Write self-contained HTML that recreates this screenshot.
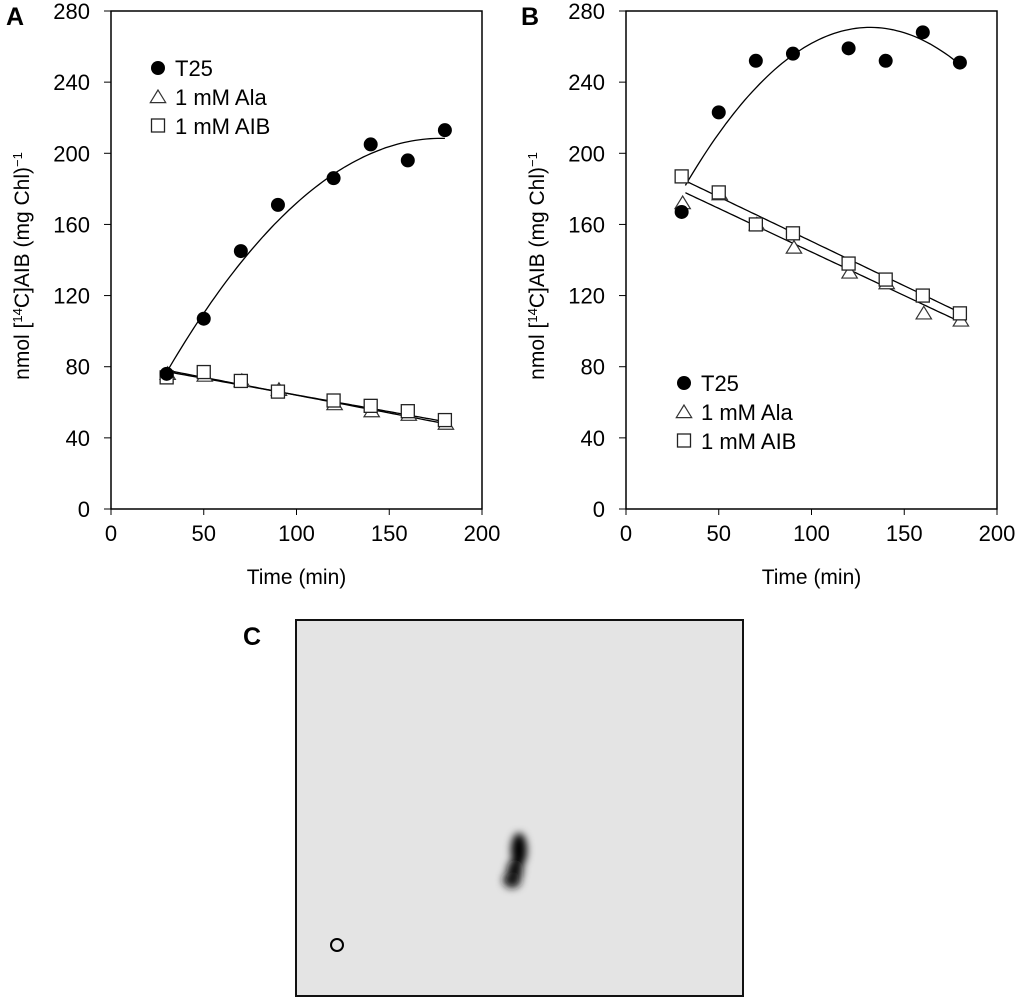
<!DOCTYPE html>
<html><head><meta charset="utf-8"><style>
body{margin:0;background:#fff;width:1024px;height:1002px;overflow:hidden}
svg text{font-family:"Liberation Sans",sans-serif}
</style></head><body>
<svg id="fig" width="1024" height="1002" viewBox="0 0 1024 1002">
<defs>
<filter id="blur" x="-50%" y="-50%" width="200%" height="200%"><feGaussianBlur stdDeviation="4"/></filter>
</defs>
<g id="panelA"></g>
<g id="panelB"></g>
<g>
<text x="243" y="645" font-size="25" font-weight="bold">C</text>
<rect x="296" y="620" width="447" height="376" fill="#e4e4e4" stroke="#111" stroke-width="2"/>
<g filter="url(#blur)">
<ellipse cx="519" cy="850" rx="8" ry="17" fill="#000"/>
<ellipse cx="515" cy="870" rx="8" ry="10" fill="#111"/>
<ellipse cx="512" cy="880" rx="9" ry="8" fill="#151515"/>
</g>
<circle cx="337" cy="945" r="6" fill="none" stroke="#000" stroke-width="2"/>
</g>
</svg>
<script>
const xTicks=[0,50,100,150,200];
const yTicks=[0,40,80,120,160,200,240,280];
const times=[30,50,70,90,120,140,160,180];
const aT25=[76,107,145,171,186,205,196,213];
const aAla=[76,75,72,67,59,55,53,48];
const aAIB=[74,77,72,66,61,58,55,50];
const bT25=[167,223,252,256,259,252,268,251];
const bAla=[172,177,160,147,133,127,110,106];
const bAIB=[187,178,160,155,138,129,120,110];
const aT25Fit=[18.2,2.140,-0.00602];
const aAlaFit=[84.0,-0.200];
const aAIBFit=[82.8,-0.187];
const bT25Fit=[115.7,2.356,-0.008948];
const bAlaFit=[193.5,-0.49];
const bAIBFit=[200.5,-0.50];
const NS="http://www.w3.org/2000/svg";
function mk(p,t,a){const e=document.createElementNS(NS,t);for(const k in a)e.setAttribute(k,a[k]);p.appendChild(e);return e;}
function panel(g,x0,x1,label,ptsT,ptsA,ptsS,fitT,fitA,fitS,legY,legX,fitStart){
 const y0=509,y1=11;
 const sx=v=>x0+(v-0)/200*(x1-x0);
 const sy=v=>y0-(v/280)*(y0-y1);
 let r=mk(g,'rect',{x:x0,y:y1,width:x1-x0,height:y0-y1,fill:'none',stroke:'#000','stroke-width':1.5});
 
 
 let t=mk(g,'text',{x:x0-105,y:25,'font-size':25,'font-weight':'bold'});t.textContent=label;
 
 
 xTicks.forEach(v=>{mk(g,'line',{x1:sx(v),x2:sx(v),y1:y0,y2:y0+6,stroke:'#000'});
  const tt=mk(g,'text',{x:sx(v),y:y0+32,'font-size':22,'text-anchor':'middle'});tt.textContent=v;
  
  });
 yTicks.forEach(v=>{mk(g,'line',{x1:x0-7,x2:x0,y1:sy(v),y2:sy(v),stroke:'#000'});
  const tt=mk(g,'text',{x:x0-21,y:sy(v)+8,'font-size':22,'text-anchor':'end'});tt.textContent=v;
  
  });
 const xt=mk(g,'text',{x:(x0+x1)/2,y:584,'font-size':21,'text-anchor':'middle'});xt.textContent='Time (min)';
 
 
 const yt=mk(g,'text',{x:0,y:0,'font-size':21,'text-anchor':'middle',transform:`translate(${x0-82},${266}) rotate(-90)`});
 yt.innerHTML='nmol [<tspan baseline-shift="super" font-size="13">14</tspan>C]AIB (mg Chl)<tspan baseline-shift="super" font-size="13">−1</tspan>';
 
 
 const poly=(f,a,b)=>{let d='';for(let x=a;x<=b+0.01;x+=2){const y=f.reduce((s,c,i)=>s+c*Math.pow(x,i),0);d+=(d?'L':'M')+sx(x).toFixed(1)+','+sy(y).toFixed(1);}return d;};
 [[fitT,'fit-t25'],[fitA,'fit-ala'],[fitS,'fit-aib']].forEach(([f,n])=>{const p=mk(g,'path',{d:poly(f,fitStart,181),fill:'none',stroke:'#000','stroke-width':1.3});
  
  });
 const tri=(cx,cy,s)=>`${cx},${cy-s} ${cx-s*1.1},${cy+s*0.8} ${cx+s*1.1},${cy+s*0.8}`;
 times.forEach((tv,i)=>{
  const a=mk(g,'polygon',{points:tri(sx(tv)+1,sy(ptsA[i]),7),fill:'#fff',stroke:'#333','stroke-width':1.2});
  
  
  const s=mk(g,'rect',{x:sx(tv)-6.5,y:sy(ptsS[i])-6.5,width:13,height:13,fill:'#fff',stroke:'#222','stroke-width':1.3});
  
  
  const c=mk(g,'circle',{cx:sx(tv),cy:sy(ptsT[i]),r:7,fill:'#000'});
  
  
 });
 const lg=mk(g,'g',{});
 
 
 mk(lg,'circle',{cx:legX,cy:legY,r:7,fill:'#000'});
 mk(lg,'polygon',{points:tri(legX,legY+29,7),fill:'#fff',stroke:'#333','stroke-width':1.2});
 mk(lg,'rect',{x:legX-6.5,y:legY+51,width:13,height:13,fill:'#fff',stroke:'#222','stroke-width':1.3});
 ['T25','1 mM Ala','1 mM AIB'].forEach((s,i)=>{const e=mk(lg,'text',{x:legX+17,y:legY+8+i*29,'font-size':22});e.textContent=s;
  
  });
}
panel(document.getElementById('panelA'),111,482,'A',aT25,aAla,aAIB,aT25Fit,aAlaFit,aAIBFit,68,158,30);
panel(document.getElementById('panelB'),626,997,'B',bT25,bAla,bAIB,bT25Fit,bAlaFit,bAIBFit,383,684,32);
</script>
</body></html>
